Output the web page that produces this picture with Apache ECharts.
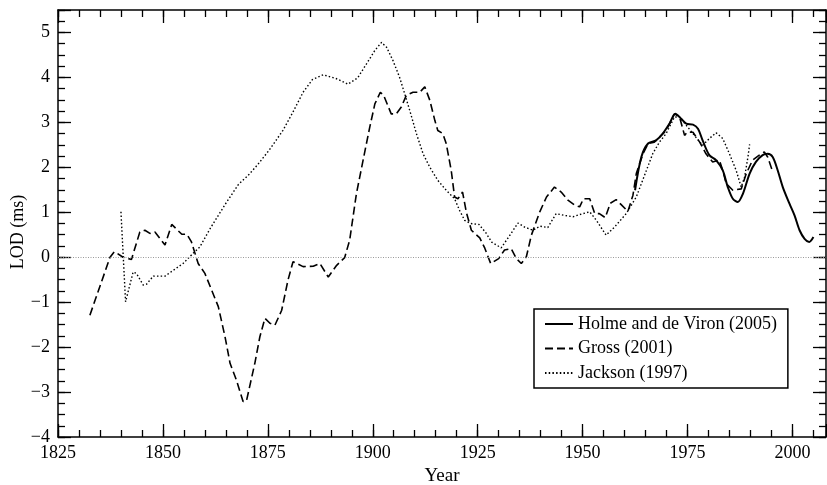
<!DOCTYPE html>
<html><head><meta charset="utf-8">
<script src="https://cdn.jsdelivr.net/npm/echarts@6/dist/echarts.min.js"></script>
<style>html,body{margin:0;padding:0;background:#fff}#c{width:827px;height:485px}</style>
</head><body><div id="c"></div>
<script>
// ---- data ----
const seriesNames = ['Holme and de Viron (2005)', 'Gross (2001)', 'Jackson (1997)'];

const holmeYears = [1962.5,1964.0,1965.6,1967.5,1969.1,1970.7,1972.1,1973.5,1974.7,1976.3,1977.5,1978.6,1980.2,1981.8,1983.4,1984.6,1985.8,1987.0,1988.2,1989.8,1991.3,1992.9,1994.1,1995.3,1996.5,1997.7,1999.3,2000.5,2001.7,2002.9,2004.0,2005.0];
const holmeLod   = [1.49,2.23,2.53,2.60,2.75,2.97,3.19,3.08,2.97,2.95,2.86,2.60,2.27,2.16,1.93,1.56,1.30,1.23,1.41,1.86,2.12,2.27,2.30,2.23,1.93,1.56,1.19,0.93,0.60,0.41,0.34,0.45];

const grossYears = [1832.6,1837.4,1838.4,1839.2,1840.5,1842.5,1844.5,1845.7,1846.9,1848.1,1850.5,1852.1,1854.5,1855.7,1856.8,1858.4,1860.0,1861.6,1863.2,1864.8,1866.0,1867.5,1869.1,1869.9,1871.9,1873.1,1874.3,1875.5,1876.7,1878.3,1879.8,1881.0,1883.4,1885.8,1887.4,1889.4,1891.4,1893.3,1894.5,1896.1,1897.7,1899.3,1900.5,1901.8,1902.6,1904.4,1905.6,1906.8,1908.0,1909.6,1911.2,1912.4,1913.6,1914.8,1915.5,1916.7,1917.5,1918.7,1919.5,1920.3,1921.4,1922.3,1923.5,1924.3,1925.5,1926.7,1928.1,1930.0,1931.4,1933.0,1934.2,1935.4,1936.6,1937.8,1939.8,1941.4,1943.3,1944.9,1946.5,1948.1,1949.3,1950.2,1951.7,1952.9,1954.0,1955.4,1956.6,1958.0,1959.2,1960.8,1962.0,1962.8,1964.4,1965.6,1967.1,1968.3,1969.9,1971.9,1973.1,1974.3,1974.9,1976.3,1977.9,1979.4,1981.0,1982.6,1983.4,1984.2,1985.8,1987.8,1989.0,1990.5,1992.1,1993.3,1994.1,1995.2];
const grossLod   = [-1.29,0.00,0.12,0.08,0.00,-0.05,0.56,0.60,0.53,0.56,0.27,0.73,0.51,0.51,0.34,-0.14,-0.36,-0.73,-1.10,-1.77,-2.36,-2.73,-3.21,-3.20,-2.36,-1.77,-1.36,-1.47,-1.51,-1.18,-0.51,-0.10,-0.21,-0.20,-0.14,-0.44,-0.18,-0.01,0.38,1.41,2.16,2.90,3.41,3.67,3.60,3.19,3.19,3.34,3.60,3.67,3.67,3.79,3.49,3.04,2.82,2.75,2.53,1.93,1.34,1.30,1.45,1.00,0.60,0.53,0.43,0.20,-0.14,-0.03,0.16,0.19,-0.03,-0.14,0.01,0.49,1.01,1.34,1.56,1.45,1.27,1.16,1.12,1.30,1.30,0.97,0.97,0.88,1.20,1.28,1.17,1.02,1.38,1.86,2.30,2.53,2.56,2.67,2.82,3.19,3.12,2.71,2.78,2.78,2.56,2.30,2.12,2.16,1.93,1.64,1.49,1.52,1.86,2.16,2.27,2.34,2.23,1.93];

const jacksonYears = [1840.0,1841.1,1842.9,1843.7,1845.3,1846.1,1847.7,1850.5,1852.5,1854.8,1856.8,1858.8,1861.4,1865.0,1868.0,1870.3,1872.5,1875.3,1878.6,1881.0,1883.4,1885.6,1888.2,1891.4,1894.1,1896.4,1898.5,1900.5,1902.1,1903.3,1904.8,1906.4,1907.6,1908.8,1910.4,1912.0,1913.6,1915.5,1917.5,1919.5,1920.7,1921.9,1923.3,1925.3,1926.9,1928.4,1930.6,1932.4,1934.6,1936.2,1938.2,1939.8,1941.7,1943.7,1945.7,1947.7,1949.7,1951.7,1953.3,1955.6,1957.6,1960.4,1962.8,1965.2,1966.7,1968.3,1969.9,1971.9,1973.1,1975.0,1977.0,1978.6,1980.2,1981.8,1983.4,1985.0,1986.6,1987.8,1988.6,1989.4,1989.8];
const jacksonLod   = [1.01,-0.99,-0.33,-0.36,-0.62,-0.60,-0.42,-0.42,-0.29,-0.14,0.05,0.23,0.66,1.20,1.62,1.82,2.05,2.38,2.82,3.23,3.67,3.95,4.06,3.97,3.85,3.99,4.30,4.60,4.78,4.67,4.38,4.00,3.64,3.27,2.75,2.30,2.00,1.71,1.49,1.30,1.04,0.82,0.75,0.73,0.55,0.33,0.21,0.45,0.76,0.67,0.60,0.69,0.66,0.97,0.93,0.90,0.96,1.01,0.82,0.49,0.67,0.97,1.34,1.93,2.30,2.56,2.75,3.12,3.12,2.90,2.67,2.49,2.64,2.77,2.64,2.30,1.93,1.56,1.78,2.23,2.51];

const xTickValues = [1825,1850,1875,1900,1925,1950,1975,2000];
const yTickValues = [-4,-3,-2,-1,0,1,2,3,4,5];

// ---- chart ----
const X_MIN = 1825, X_MAX = 2008, Y_MIN = -4, Y_MAX = 5.5;
const FONT = '"Liberation Serif", "Times New Roman", serif';
const pairs = (xs, ys) => xs.map((x, i) => [x, ys[i]]);
const fmt = v => String(v).replace('-', '\u2212');

function xAxisDef(pos, major, showLabel) {
  return {
    type: 'value', position: pos, min: X_MIN, max: X_MAX, interval: major ? 25 : 5,
    axisLine: {show: major, onZero: false, lineStyle: {color: '#000', width: 1.5}},
    axisTick: {show: true, inside: true, length: major ? 13 : 7, lineStyle: {color: '#000', width: 1.3}},
    axisLabel: {show: showLabel, margin: 7, fontFamily: FONT, fontSize: 18, color: '#000',
      customValues: showLabel ? xTickValues : undefined, formatter: v => fmt(v)},
    splitLine: {show: false},
    name: showLabel ? 'Year' : '', nameLocation: 'middle', nameGap: 21,
    nameTextStyle: {fontFamily: FONT, fontSize: 19, color: '#000'}
  };
}
function yAxisDef(pos, major, showLabel) {
  return {
    type: 'value', position: pos, min: Y_MIN, max: Y_MAX, interval: major ? 1 : 0.25,
    axisLine: {show: major, onZero: false, lineStyle: {color: '#000', width: 1.5}},
    axisTick: {show: true, inside: true, length: major ? 13 : 7, lineStyle: {color: '#000', width: 1.3}},
    axisLabel: {show: showLabel, margin: 8, fontFamily: FONT, fontSize: 18, color: '#000',
      customValues: showLabel ? yTickValues : undefined, formatter: v => fmt(v)},
    splitLine: {show: false}
  };
}

const chart = echarts.init(document.getElementById('c'));
chart.setOption({
  animation: false,
  backgroundColor: '#fff',
  grid: {left: 58, right: 1, top: 10, bottom: 48, containLabel: false, outerBoundsMode: 'none'},
  xAxis: [xAxisDef('bottom', true, true), xAxisDef('bottom', false, false),
          xAxisDef('top', true, false), xAxisDef('top', false, false)],
  yAxis: [yAxisDef('left', true, true), yAxisDef('left', false, false),
          yAxisDef('right', true, false), yAxisDef('right', false, false)],
  legend: {
    orient: 'vertical', left: 534, top: 309,
    itemWidth: 28, itemHeight: 14, itemGap: 6.5,
    padding: [6, 11, 6, 10],
    borderColor: '#000', borderWidth: 1.5, borderRadius: 0,
    backgroundColor: '#fff',
    itemStyle: {color: 'rgba(0,0,0,0)', borderColor: 'rgba(0,0,0,0)', borderWidth: 0, opacity: 0},
    textStyle: {fontFamily: FONT, fontSize: 18, color: '#000'},
    data: seriesNames
  },
  graphic: [{
    type: 'text', x: 18, y: 232, rotation: Math.PI / 2,
    style: {text: 'LOD (ms)', font: '18px "Liberation Serif"', fill: '#000', align: 'center', verticalAlign: 'middle'}
  }],
  series: [
    {
      name: seriesNames[0], type: 'line', xAxisIndex: 0, yAxisIndex: 0,
      data: pairs(holmeYears, holmeLod), symbol: 'none', smooth: 0.3, z: 5,
      itemStyle: {color: '#000'}, lineStyle: {color: '#000', width: 2}
    },
    {
      name: seriesNames[1], type: 'line', xAxisIndex: 0, yAxisIndex: 0,
      data: pairs(grossYears, grossLod), symbol: 'none', z: 4,
      itemStyle: {color: '#000'}, lineStyle: {color: '#000', width: 1.6, type: [8, 4]},
      markLine: {
        silent: true, symbol: 'none', label: {show: false},
        lineStyle: {color: '#999', width: 1, type: [1, 1.5]},
        data: [{yAxis: 0}]
      }
    },
    {
      name: seriesNames[2], type: 'line', xAxisIndex: 0, yAxisIndex: 0,
      data: pairs(jacksonYears, jacksonLod), symbol: 'none', z: 3,
      itemStyle: {color: '#000'}, lineStyle: {color: '#000', width: 1.4, type: [1.5, 2.2]}
    }
  ]
});
</script>
</body></html>
